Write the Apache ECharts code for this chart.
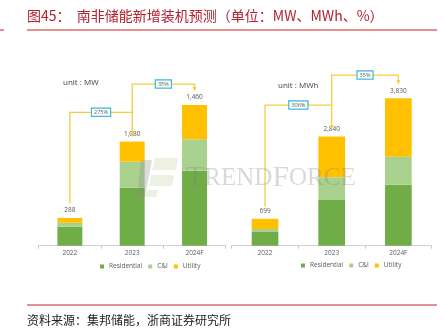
<!DOCTYPE html>
<html>
<head>
<meta charset="utf-8">
<script src="https://cdn.jsdelivr.net/npm/echarts@6/dist/echarts.min.js"></script>
<style>
html,body{margin:0;padding:0;background:#fff;}
#c{width:446px;height:330px;}
</style>
</head>
<body>
<div id="c"></div>
<script>
// ---------- data ----------
var categories = ['2022', '2023', '2024F'];
var seriesNames = ['Residential', 'C&I', 'Utility'];
var mwResidential = [197, 602, 778];
var mwCI = [41, 270, 326];
var mwUtility = [50, 208, 356];
var mwTotal = [288, 1080, 1460];
var mwhResidential = [356, 1187, 1585];
var mwhCI = [78, 590, 727];
var mwhUtility = [265, 1063, 1518];
var mwhTotal = [699, 2840, 3830];
var growthMW = ['275%', '35%'];
var growthMWh = ['306%', '35%'];
var unitLabels = ['unit : MW', 'unit : MWh'];
var titleText = '图45：  南非储能新增装机预测（单位：MW、MWh、%）';
var sourceText = '资料来源：集邦储能，浙商证券研究所';

// ---------- style ----------
var colors = ['#70ad47', '#a9d18e', '#ffc000'];
var lineColor = '#f5cd3c';
var boxColor = '#3fb8d4';
var fmt = function (v) { return v.toLocaleString('en-US'); };

var chart = echarts.init(document.getElementById('c'), null, {renderer: 'canvas'});

function barSeries(gi, res, ci, ut, tot) {
  var arrs = [res, ci, ut];
  return arrs.map(function (arr, i) {
    var s = {
      name: seriesNames[i], type: 'bar', stack: 's' + gi,
      xAxisIndex: gi, yAxisIndex: gi, barWidth: '40%',
      itemStyle: {color: colors[i]}, data: arr, silent: true
    };
    if (i === 2) {
      s.label = {
        show: true, position: 'top', distance: 4, fontSize: 6.5, color: '#595959',
        fontFamily: 'Open Sans',
        formatter: function (p) { return fmt(tot[p.dataIndex]); }
      };
    }
    return s;
  });
}

var option = {
  animation: false,
  textStyle: {fontFamily: 'Open Sans'},
  grid: [
    {left: 38.7, width: 187, top: 52.9, height: 192.8},
    {left: 231.7, width: 200, top: 53.3, height: 192.4}
  ],
  xAxis: [0, 1].map(function (gi) {
    return {
      type: 'category', gridIndex: gi, data: categories,
      axisLine: {lineStyle: {color: '#d0d0d0', width: 1}},
      axisTick: {show: true, length: 3, lineStyle: {color: '#c8c8c8'}},
      axisLabel: {fontSize: 6.5, color: '#595959', margin: 4}
    };
  }),
  yAxis: [
    {type: 'value', gridIndex: 0, min: 0, max: 2000, show: false, splitLine: {show: false}},
    {type: 'value', gridIndex: 1, min: 0, max: 5000, show: false, splitLine: {show: false}}
  ],
  legend: [
    {left: 95, top: 258, itemWidth: 4, itemHeight: 4, itemGap: 6, icon: 'rect',
     textStyle: {fontSize: 6.5, color: '#595959'}, data: seriesNames, selectedMode: false},
    {left: 296, top: 257, itemWidth: 4, itemHeight: 4, itemGap: 6, icon: 'rect',
     textStyle: {fontSize: 6.5, color: '#595959'}, data: seriesNames, selectedMode: false}
  ],
  series: barSeries(0, mwResidential, mwCI, mwUtility, mwTotal)
    .concat(barSeries(1, mwhResidential, mwhCI, mwhUtility, mwhTotal))
};
chart.setOption(option);

// ---------- annotations (positions derived from data via axes) ----------
var layout = [
  {gi: 0, totals: mwTotal, growth: growthMW, unit: unitLabels[0], unitPos: [63, 83],
   startAbove: 150, level1: 1384, arrow1Above: 58, level2: 1677, arrow2Above: 155},
  {gi: 1, totals: mwhTotal, growth: growthMWh, unit: unitLabels[1], unitPos: [278, 86],
   startAbove: 314, level1: 3655, arrow1Above: 210, level2: 4435, arrow2Above: 389}
];

var graphics = [];
function px(gi, ci, v) { return chart.convertToPixel({gridIndex: gi}, [ci, v]); }

layout.forEach(function (L) {
  var t = L.totals;
  var p0 = px(L.gi, 0, t[0] + L.startAbove);
  var p1 = px(L.gi, 0, L.level1);
  var p2 = px(L.gi, 1, L.level1);
  var p3 = px(L.gi, 1, t[1] + L.arrow1Above);
  var q1 = px(L.gi, 1, L.level2);
  var q2 = px(L.gi, 2, L.level2);
  var q3 = px(L.gi, 2, t[2] + L.arrow2Above);
  var ls = {stroke: lineColor, lineWidth: 1.3, fill: null};
  graphics.push({type: 'polyline', shape: {points: [p0, p1, p2, p3]}, style: ls, z: 10});
  graphics.push({type: 'polyline', shape: {points: [p2, q1, q2, q3]}, style: ls, z: 10});
  [p3, q3].forEach(function (a) {
    graphics.push({type: 'polygon', shape: {points: [[a[0] - 2, a[1] - 3], [a[0] + 2, a[1] - 3], [a[0], a[1] + 1]]},
      style: {fill: lineColor}, z: 10});
  });
  var boxes = [[(p1[0] + p2[0]) / 2, p1[1], L.growth[0]], [(q1[0] + q2[0]) / 2, q1[1], L.growth[1]]];
  boxes.forEach(function (b) {
    graphics.push({type: 'text', x: b[0], y: b[1], z: 11,
      style: {text: b[2], fontSize: 5.5, fill: '#555', align: 'center', verticalAlign: 'middle',
        fontFamily: 'Open Sans', backgroundColor: '#fff', borderColor: boxColor, borderWidth: 1.2,
        padding: [1, 2, 0, 2]}});
  });
  graphics.push({type: 'text', x: L.unitPos[0], y: L.unitPos[1], z: 11,
    style: {text: L.unit, fontSize: 8, fill: '#404040', verticalAlign: 'middle', fontFamily: 'Open Sans'}});
});

// watermark
graphics.push({type: 'polygon', z: 20, shape: {points: [[141, 160], [152, 160], [145, 197], [137, 197]]},
  style: {fill: 'rgba(140,140,140,0.30)'}});
graphics.push({type: 'polygon', z: 20, shape: {points: [[155, 158], [178, 158], [176, 170], [152, 170]]},
  style: {fill: 'rgba(220,230,200,0.55)'}});
graphics.push({type: 'polygon', z: 20, shape: {points: [[151, 175], [174, 175], [172, 186], [149, 186]]},
  style: {fill: 'rgba(220,230,200,0.55)'}});
graphics.push({type: 'polygon', z: 20, shape: {points: [[147, 190], [158, 190], [156, 197], [145, 197]]},
  style: {fill: 'rgba(220,230,200,0.55)'}});
graphics.push({type: 'text', x: 186, y: 178, z: 20,
  style: {text: '{a|T}{b|REND}{a|F}{b|ORCE}', verticalAlign: 'middle',
    rich: {a: {fontSize: 30, fontFamily: 'Liberation Serif', fill: 'rgba(130,130,130,0.30)'},
           b: {fontSize: 25, fontFamily: 'Liberation Serif', fill: 'rgba(130,130,130,0.30)'}}}});

// title, rules, source
graphics.push({type: 'text', x: 27, y: 16, z: 30,
  style: {text: titleText, fontSize: 14, fill: '#b3202e', verticalAlign: 'middle',
    fontFamily: 'Noto Sans CJK SC'}});
graphics.push({type: 'line', z: 30, shape: {x1: 27, y1: 30, x2: 437, y2: 30},
  style: {stroke: '#dc6a6a', lineWidth: 1.5}});
graphics.push({type: 'line', z: 30, shape: {x1: 0, y1: 30, x2: 4, y2: 30},
  style: {stroke: '#dc6a6a', lineWidth: 1.5}});
graphics.push({type: 'line', z: 30, shape: {x1: 27, y1: 305, x2: 437, y2: 305},
  style: {stroke: '#dc6a6a', lineWidth: 1.5}});
graphics.push({type: 'text', x: 27, y: 320, z: 30,
  style: {text: sourceText, fontSize: 12, fill: '#222', verticalAlign: 'middle',
    fontFamily: 'Noto Sans CJK SC'}});

chart.setOption({graphic: {elements: graphics}});
</script>
</body>
</html>
